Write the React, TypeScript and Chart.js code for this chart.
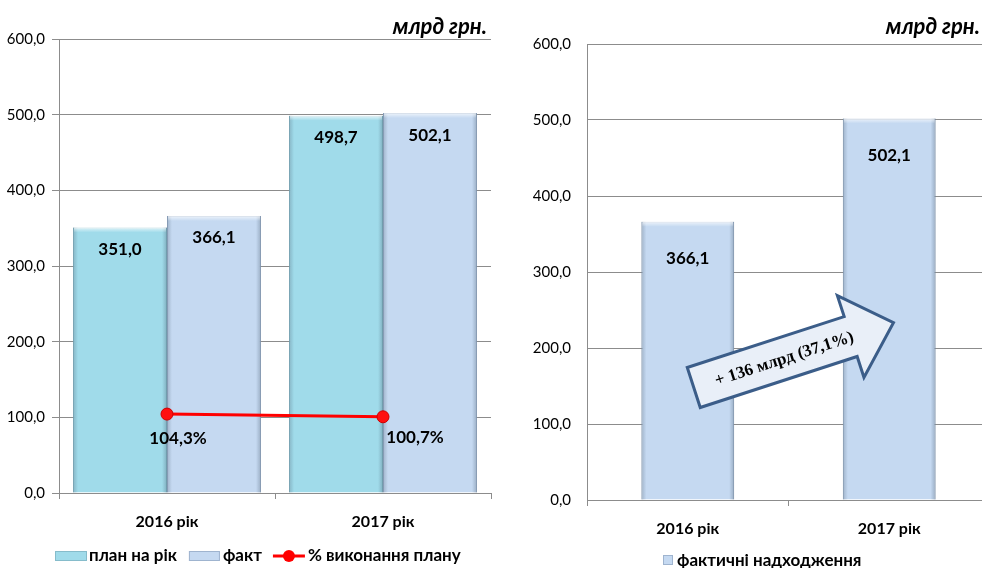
import React, { useEffect, useRef } from "react";
import { Chart, registerables } from "chart.js";

Chart.register(...registerables);

const categories = ["2016 рік", "2017 рік"];
const planValues = [351.0, 498.7];
const factValues = [366.1, 502.1];
const percentValues = [104.3, 100.7];
const percentLabels = ["104,3%", "100,7%"];
const yMin = 0;
const yMax = 600;
const yStep = 100;
const unitLabel = "млрд грн.";
const legendLeft = ["план на рік", "факт", "% виконання плану"];
const legendRight = "фактичні надходження";
const arrowText = "+ 136 млрд (37,1%)";

const FONT = "Lato, 'Open Sans', sans-serif";
const PLAN_COLOR = "#a0dbea";
const PLAN_BORDER = "#86bccb";
const FACT_COLOR = "#c5d9f1";
const FACT_BORDER = "#9fb4cf";
const GRID = "#8c8c8c";
const fmt = (v: number) => v.toFixed(1).replace(".", ",");

function drawSwatch(ctx: CanvasRenderingContext2D, x: number, y: number, w: number, h: number, fill: string, border: string) {
  ctx.fillStyle = fill;
  ctx.fillRect(x, y, w, h);
  ctx.strokeStyle = border;
  ctx.lineWidth = 1;
  ctx.strokeRect(x + 0.5, y + 0.5, w - 1, h - 1);
  ctx.fillStyle = "#000";
}

function bevel(chart: any, datasetIndex: number) {
  const meta = chart.getDatasetMeta(datasetIndex);
  if (meta.type !== "bar") return;
  const ctx = chart.ctx as CanvasRenderingContext2D;
  ctx.save();
  meta.data.forEach((bar: any) => {
    const w = bar.width;
    const l = bar.x - w / 2;
    const r = bar.x + w / 2;
    const t = bar.y;
    const b = bar.base;
    const e = 5;
    let g = ctx.createLinearGradient(l, 0, l + e, 0);
    g.addColorStop(0, "rgba(60,80,100,0.28)");
    g.addColorStop(1, "rgba(60,80,100,0)");
    ctx.fillStyle = g;
    ctx.fillRect(l, t, e, b - t);
    g = ctx.createLinearGradient(r, 0, r - e, 0);
    g.addColorStop(0, "rgba(60,80,100,0.32)");
    g.addColorStop(1, "rgba(60,80,100,0)");
    ctx.fillStyle = g;
    ctx.fillRect(r - e, t, e, b - t);
    g = ctx.createLinearGradient(0, t, 0, t + e);
    g.addColorStop(0, "rgba(255,255,255,0.7)");
    g.addColorStop(1, "rgba(255,255,255,0)");
    ctx.fillStyle = g;
    ctx.fillRect(l + 1, t, w - 2, e);
  });
  ctx.restore();
}

const leftPlugin = {
  id: "leftDeco",
  afterDatasetDraw(chart: any, args: any) {
    bevel(chart, args.index);
  },
  afterDatasetsDraw(chart: any) {
    const ctx = chart.ctx as CanvasRenderingContext2D;
    ctx.save();
    ctx.fillStyle = "#000";
    ctx.font = `bold 17px ${FONT}`;
    ctx.textAlign = "center";
    ctx.textBaseline = "middle";
    [0, 1].forEach((di) => {
      const meta = chart.getDatasetMeta(di);
      meta.data.forEach((bar: any, i: number) => {
        const v = chart.data.datasets[di].data[i];
        ctx.fillText(fmt(v), bar.x, bar.y + 22);
      });
    });
    const lm = chart.getDatasetMeta(2);
    lm.data.forEach((pt: any, i: number) => {
      const dx = i === 0 ? 11 : 32;
      const dy = i === 0 ? 24 : 21;
      ctx.fillText(percentLabels[i], pt.x + dx, pt.y + dy);
    });
    ctx.restore();
  },
  afterDraw(chart: any) {
    const ctx = chart.ctx as CanvasRenderingContext2D;
    const ca = chart.chartArea;
    ctx.save();
    ctx.fillStyle = "#000";
    ctx.font = `italic bold 22px ${FONT}`;
    ctx.textAlign = "right";
    ctx.textBaseline = "middle";
    ctx.fillText(unitLabel, ca.right - 4, 27);
    // legend
    ctx.font = `bold 17px ${FONT}`;
    ctx.textAlign = "left";
    const ly = 556;
    let x = 55;
    drawSwatch(ctx, x, ly - 5, 32, 10, PLAN_COLOR, PLAN_BORDER);
    x += 34;
    ctx.fillText(legendLeft[0], x, ly);
    x += ctx.measureText(legendLeft[0]).width + 12;
    drawSwatch(ctx, x, ly - 5, 31, 10, FACT_COLOR, FACT_BORDER);
    x += 34;
    ctx.fillText(legendLeft[1], x, ly);
    x += ctx.measureText(legendLeft[1]).width + 11;
    ctx.strokeStyle = "#ff0000";
    ctx.lineWidth = 3;
    ctx.beginPath();
    ctx.moveTo(x, ly);
    ctx.lineTo(x + 32, ly);
    ctx.stroke();
    ctx.fillStyle = "#ff0000";
    ctx.beginPath();
    ctx.arc(x + 16, ly, 6, 0, Math.PI * 2);
    ctx.fill();
    ctx.fillStyle = "#000";
    x += 35;
    ctx.fillText(legendLeft[2], x, ly);
    ctx.restore();
  },
};

const rightPlugin = {
  id: "rightDeco",
  afterDatasetDraw(chart: any, args: any) {
    bevel(chart, args.index);
  },
  afterDatasetsDraw(chart: any) {
    const ctx = chart.ctx as CanvasRenderingContext2D;
    ctx.save();
    ctx.fillStyle = "#000";
    ctx.font = `bold 17px ${FONT}`;
    ctx.textAlign = "center";
    ctx.textBaseline = "middle";
    const meta = chart.getDatasetMeta(0);
    meta.data.forEach((bar: any, i: number) => {
      ctx.fillText(fmt(factValues[i]), bar.x, bar.y + 37);
    });
    // arrow
    const xs = chart.scales.x;
    const ys = chart.scales.y;
    const tx = xs.getPixelForValue(0) + 6;
    const ty = ys.getPixelForValue(148);
    ctx.translate(tx, ty);
    ctx.rotate((-18 * Math.PI) / 180);
    const L = 210, bh = 21, hl = 45, hh = 43;
    ctx.beginPath();
    ctx.moveTo(0, -bh);
    ctx.lineTo(L - hl, -bh);
    ctx.lineTo(L - hl, -hh);
    ctx.lineTo(L, 0);
    ctx.lineTo(L - hl, hh);
    ctx.lineTo(L - hl, bh);
    ctx.lineTo(0, bh);
    ctx.closePath();
    ctx.fillStyle = "#e9eff8";
    ctx.fill();
    ctx.strokeStyle = "#3b5d89";
    ctx.lineWidth = 3;
    ctx.lineJoin = "miter";
    ctx.stroke();
    ctx.fillStyle = "#000";
    ctx.font = "bold 17px 'Liberation Serif', 'Times New Roman', serif";
    ctx.fillText(arrowText, 95, 1);
    ctx.restore();
  },
  afterDraw(chart: any) {
    const ctx = chart.ctx as CanvasRenderingContext2D;
    ctx.save();
    ctx.fillStyle = "#000";
    ctx.font = `italic bold 22px ${FONT}`;
    ctx.textAlign = "right";
    ctx.textBaseline = "middle";
    ctx.fillText(unitLabel, 490, 27);
    ctx.font = `bold 17px ${FONT}`;
    ctx.textAlign = "left";
    const ly = 561;
    drawSwatch(ctx, 173, ly - 6, 10, 10, FACT_COLOR, FACT_BORDER);
    ctx.fillText(legendRight, 187, ly);
    ctx.restore();
  },
};

function yScale(width: number, tickLen: number, pad: number) {
  return {
    min: yMin,
    max: yMax,
    afterFit: (s: any) => {
      s.width = width;
    },
    ticks: {
      stepSize: yStep,
      padding: pad,
      color: "#000",
      font: { family: FONT, size: 15 },
      callback: (v: any) => fmt(Number(v)),
    },
    grid: { color: GRID, lineWidth: 1, tickLength: tickLen, drawTicks: tickLen > 0 },
    border: { display: true, color: GRID, width: 1 },
  };
}

function xScale(height: number) {
  return {
    afterFit: (s: any) => {
      s.height = height;
    },
    ticks: { color: "#000", padding: 13, font: { family: FONT, size: 16, weight: "bold" as const } },
    grid: { drawOnChartArea: false, color: GRID, tickLength: 6, offset: true },
    border: { display: true, color: GRID },
  };
}

export default function App() {
  const leftRef = useRef<HTMLCanvasElement>(null);
  const rightRef = useRef<HTMLCanvasElement>(null);

  useEffect(() => {
    document.body.style.overflow = "hidden";
    const left = new Chart(leftRef.current!, {
      type: "bar",
      data: {
        labels: categories,
        datasets: [
          {
            label: legendLeft[0],
            data: planValues,
            backgroundColor: PLAN_COLOR,
            borderColor: PLAN_BORDER,
            borderWidth: 1,
            categoryPercentage: 0.87,
            barPercentage: 1.0,
            order: 2,
          },
          {
            label: legendLeft[1],
            data: factValues,
            backgroundColor: FACT_COLOR,
            borderColor: FACT_BORDER,
            borderWidth: 1,
            categoryPercentage: 0.87,
            barPercentage: 1.0,
            order: 2,
          },
          {
            type: "line",
            label: legendLeft[2],
            data: percentValues,
            borderColor: "#ff0000",
            backgroundColor: "#ff0000",
            borderWidth: 3,
            pointRadius: 6,
            pointBackgroundColor: "#ff1010",
            pointBorderColor: "#d00000",
            pointBorderWidth: 1,
            order: 0,
          } as any,
        ],
      },
      options: {
        animation: false,
        responsive: false,
        maintainAspectRatio: false,
        layout: { padding: { top: 39, right: 9, left: 0, bottom: 0 } },
        plugins: { legend: { display: false }, tooltip: { enabled: false } },
        scales: {
          x: xScale(75),
          y: yScale(59, 7, 7),
        } as any,
      },
      plugins: [leftPlugin],
    });

    const right = new Chart(rightRef.current!, {
      type: "bar",
      data: {
        labels: categories,
        datasets: [
          {
            label: legendRight,
            data: factValues,
            backgroundColor: FACT_COLOR,
            borderColor: FACT_BORDER,
            borderWidth: 1,
            categoryPercentage: 0.46,
            barPercentage: 1.0,
          },
        ],
      },
      options: {
        animation: false,
        responsive: false,
        maintainAspectRatio: false,
        layout: { padding: { top: 44, right: 10, left: 0, bottom: 0 } },
        plugins: { legend: { display: false }, tooltip: { enabled: false } },
        scales: {
          x: xScale(68),
          y: yScale(97, 0, 16),
        } as any,
      },
      plugins: [rightPlugin],
    });

    return () => {
      left.destroy();
      right.destroy();
    };
  }, []);

  return (
    <div style={{ position: "fixed", left: 0, top: 0, width: 982, height: 568, overflow: "hidden", background: "#fff" }}>
      <canvas ref={leftRef} width={500} height={568} style={{ position: "absolute", left: 0, top: 0, width: 500, height: 568 }} />
      <canvas ref={rightRef} width={510} height={568} style={{ position: "absolute", left: 490, top: 0, width: 510, height: 568 }} />
    </div>
  );
}
